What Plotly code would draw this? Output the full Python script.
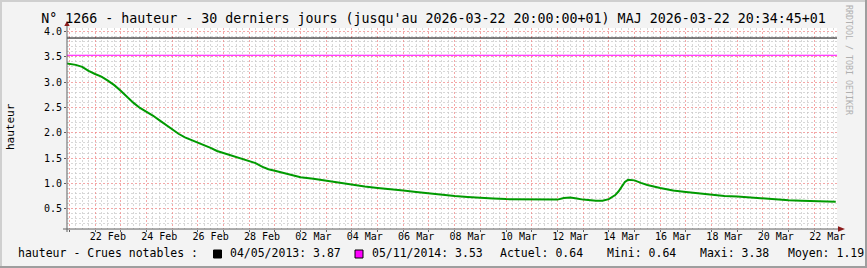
import plotly.graph_objects as go

# ---------------- data ----------------
times = [
    "2026-02-20 21:00", "2026-02-21 00:00", "2026-02-21 06:00", "2026-02-21 12:00", "2026-02-21 18:00",
    "2026-02-22 00:00", "2026-02-22 06:00", "2026-02-22 12:00", "2026-02-22 18:00",
    "2026-02-23 00:00", "2026-02-23 06:00", "2026-02-23 12:00", "2026-02-23 18:00",
    "2026-02-24 00:00", "2026-02-24 06:00", "2026-02-24 12:00", "2026-02-24 18:00",
    "2026-02-25 00:00", "2026-02-25 06:00", "2026-02-25 12:00", "2026-02-25 18:00",
    "2026-02-26 00:00", "2026-02-26 06:00", "2026-02-26 12:00", "2026-02-26 18:00",
    "2026-02-27 00:00", "2026-02-27 06:00", "2026-02-27 12:00", "2026-02-27 18:00",
    "2026-02-28 00:00", "2026-02-28 06:00", "2026-02-28 12:00", "2026-02-28 18:00",
    "2026-03-01 00:00", "2026-03-01 12:00", "2026-03-02 00:00", "2026-03-02 12:00",
    "2026-03-03 00:00", "2026-03-03 12:00", "2026-03-04 00:00", "2026-03-04 12:00",
    "2026-03-05 00:00", "2026-03-05 12:00", "2026-03-06 00:00", "2026-03-06 12:00",
    "2026-03-07 00:00", "2026-03-07 12:00", "2026-03-08 00:00", "2026-03-08 12:00",
    "2026-03-09 00:00", "2026-03-09 12:00", "2026-03-10 00:00", "2026-03-10 12:00",
    "2026-03-11 00:00", "2026-03-11 12:00", "2026-03-12 00:00", "2026-03-12 06:00",
    "2026-03-12 12:00", "2026-03-12 18:00", "2026-03-13 00:00", "2026-03-13 12:00",
    "2026-03-13 18:00", "2026-03-14 00:00", "2026-03-14 06:00", "2026-03-14 09:00",
    "2026-03-14 12:00", "2026-03-14 15:00", "2026-03-14 18:00", "2026-03-15 00:00",
    "2026-03-15 06:00", "2026-03-15 12:00", "2026-03-16 00:00", "2026-03-16 12:00",
    "2026-03-17 00:00", "2026-03-17 12:00", "2026-03-18 00:00", "2026-03-18 12:00",
    "2026-03-19 00:00", "2026-03-19 12:00", "2026-03-20 00:00", "2026-03-20 12:00",
    "2026-03-21 00:00", "2026-03-21 12:00", "2026-03-22 00:00", "2026-03-22 12:00",
    "2026-03-22 20:00",
]
hauteur = [
    3.37, 3.36, 3.34, 3.30, 3.22,
    3.16, 3.11, 3.03, 2.94,
    2.83, 2.70, 2.59, 2.49,
    2.42, 2.34, 2.25, 2.16,
    2.06, 1.98, 1.91, 1.86,
    1.80, 1.75, 1.70, 1.64,
    1.60, 1.56, 1.52, 1.48,
    1.44, 1.40, 1.33, 1.28,
    1.25, 1.18, 1.12, 1.09,
    1.05, 1.01, 0.97, 0.94,
    0.91, 0.89, 0.86, 0.83,
    0.80, 0.77, 0.75, 0.73,
    0.71, 0.70, 0.69, 0.69,
    0.68, 0.68, 0.68, 0.71,
    0.72, 0.70, 0.68, 0.66,
    0.66, 0.69, 0.77, 0.84,
    0.94, 1.03, 1.07, 1.06,
    1.01, 0.97, 0.91, 0.86,
    0.83, 0.80, 0.77, 0.75,
    0.74, 0.72, 0.70, 0.69,
    0.67, 0.66, 0.65, 0.64,
    0.64,
]

tick_dates = [
    "2026-02-22 12:00", "2026-02-24 12:00", "2026-02-26 12:00", "2026-02-28 12:00",
    "2026-03-02 12:00", "2026-03-04 12:00", "2026-03-06 12:00", "2026-03-08 12:00",
    "2026-03-10 12:00", "2026-03-12 12:00", "2026-03-14 12:00", "2026-03-16 12:00",
    "2026-03-18 12:00", "2026-03-20 12:00", "2026-03-22 12:00",
]
tick_labels = [
    "22 Feb", "24 Feb", "26 Feb", "28 Feb", "02 Mar", "04 Mar", "06 Mar", "08 Mar",
    "10 Mar", "12 Mar", "14 Mar", "16 Mar", "18 Mar", "20 Mar", "22 Mar",
]

notable_dates = ["04/05/2013", "05/11/2014"]
notable_values = [3.87, 3.53]
notable_colors = ["#000000", "#ff00ff"]

stat_names = ["Actuel", "Mini", "Maxi", "Moyen"]
stat_values = [0.64, 0.64, 3.38, 1.19]

title_text = ("N° 1266 - hauteur - 30 derniers jours (jusqu'au 2026-03-22 20:00:00+01) "
              "MAJ 2026-03-22 20:34:45+01")

# ---------------- layout helpers ----------------
W, H = 867, 268
L, R, T, B = 67, 30, 28, 39
PW, PH = W - L - R, H - T - B
MONO = "DejaVu Sans Mono"


def px2x(px):
    return (px - L) / PW


def px2y(py):
    return (H - B - py) / PH


x_range = ["2026-02-20 21:50", "2026-03-22 21:10"]
y_range = [0.1, 4.068]

MAJ = "rgba(240,130,130,0.7)"
MIN = "rgba(200,200,200,0.7)"
DASH = "2px,2px"

fig = go.Figure()
# invisible companion trace so the overlaid grid axis (x2) gets drawn
fig.add_trace(go.Scatter(
    x=times, y=hauteur, mode="lines", xaxis="x2", yaxis="y",
    line=dict(color="rgba(0,0,0,0)", width=0), opacity=0,
    hoverinfo="skip", showlegend=False,
))
fig.add_trace(go.Scatter(
    x=times, y=hauteur, mode="lines", xaxis="x", yaxis="y",
    line=dict(color="#009a00", width=2), hoverinfo="skip", showlegend=False,
))

shapes = []
for v, c in zip(notable_values, notable_colors):
    shapes.append(dict(type="line", xref="paper", yref="y", x0=0, x1=1, y0=v, y1=v,
                       line=dict(color=c, width=1), layer="above"))

# axis lines
AX = "#606060"
shapes.append(dict(type="line", xref="paper", yref="paper", x0=px2x(67), x1=px2x(67),
                   y0=px2y(232), y1=px2y(24), line=dict(color=AX, width=1)))
shapes.append(dict(type="line", xref="paper", yref="paper", x0=px2x(63), x1=px2x(840),
                   y0=px2y(229), y1=px2y(229), line=dict(color=AX, width=1)))
# arrows
ARW = "#8b1a1a"
shapes.append(dict(type="path", xref="paper", yref="paper", fillcolor=ARW, line=dict(width=0),
                   path=f"M {px2x(64.3)} {px2y(26)} L {px2x(69.7)} {px2y(26)} L {px2x(67)} {px2y(21)} Z"))
shapes.append(dict(type="path", xref="paper", yref="paper", fillcolor=ARW, line=dict(width=0),
                   path=f"M {px2x(838)} {px2y(226.3)} L {px2x(838)} {px2y(231.7)} L {px2x(845)} {px2y(229)} Z"))
# 3D frame
for (x0, x1, y0, y1, col) in [
    (0, W, 0, 2, "#cfcfcf"), (0, 2, 0, H, "#cfcfcf"),
    (0, W, H - 2, H, "#9e9e9e"), (W - 2, W, 0, H, "#9e9e9e"),
]:
    shapes.append(dict(type="rect", xref="paper", yref="paper", x0=px2x(x0), x1=px2x(x1),
                       y0=px2y(y1), y1=px2y(y0), fillcolor=col, line=dict(width=0)))
# legend swatches
for (sx, col) in [(213.5, notable_colors[0]), (355, notable_colors[1])]:
    shapes.append(dict(type="rect", xref="paper", yref="paper", x0=px2x(sx), x1=px2x(sx + 8),
                       y0=px2y(258), y1=px2y(250), fillcolor=col,
                       line=dict(color="#000000", width=1)))

annotations = []
LEG_Y = px2y(253)
leg_font = dict(family=MONO, size=11.5, color="#000000")
segments = [
    (16, "hauteur - Crues notables :"),
    (228, f"{notable_dates[0]}: {notable_values[0]:.2f}"),
    (370, f"{notable_dates[1]}: {notable_values[1]:.2f}"),
    (498, f"{stat_names[0]}: {stat_values[0]:.2f}"),
    (605, f"{stat_names[1]}: {stat_values[1]:.2f}"),
    (698, f"{stat_names[2]}: {stat_values[2]:.2f}"),
    (786, f"{stat_names[3]}: {stat_values[3]:.2f}"),
]
for sx, txt in segments:
    annotations.append(dict(xref="paper", yref="paper", x=px2x(sx), y=LEG_Y, text=txt,
                            showarrow=False, xanchor="left", yanchor="middle", font=leg_font))
annotations.append(dict(xref="paper", yref="paper", x=px2x(10), y=px2y(127), text="hauteur",
                        textangle=-90, showarrow=False, xanchor="center", yanchor="middle",
                        font=dict(family=MONO, size=11, color="#000000")))
annotations.append(dict(xref="paper", yref="paper", x=px2x(849), y=px2y(60),
                        text="RRDTOOL / TOBI OETIKER", textangle=90, showarrow=False,
                        xanchor="center", yanchor="middle",
                        font=dict(family=MONO, size=8.3, color="#b0b0b0")))

fig.update_layout(
    width=W, height=H,
    margin=dict(l=L, r=R, t=T, b=B, pad=0),
    paper_bgcolor="#f3f3f3", plot_bgcolor="#ffffff",
    title=dict(text=title_text, x=0.5, xref="container", xanchor="center",
               y=1 - 18 / H, yref="container", yanchor="middle",
               font=dict(family=MONO, size=13.3, color="#000000")),
    xaxis=dict(type="date", range=x_range, tickmode="array", tickvals=tick_dates,
               ticktext=tick_labels, ticks="", showgrid=False, showline=False,
               zeroline=False, tickfont=dict(family=MONO, size=10, color="#000000")),
    xaxis2=dict(type="date", overlaying="x", anchor="y", side="bottom",
                range=x_range, tick0="2026-02-21", dtick=86400000,
                showgrid=True, gridcolor=MAJ, griddash=DASH, gridwidth=1,
                showticklabels=False, ticks="outside", ticklen=2, tickcolor=AX,
                showline=False, zeroline=False,
                minor=dict(dtick=21600000, showgrid=True, gridcolor=MIN, griddash=DASH,
                           gridwidth=1, ticks="")),
    yaxis=dict(range=y_range, tick0=0, dtick=0.5, tickformat=".1f",
               showgrid=True, gridcolor=MAJ, griddash=DASH, gridwidth=1,
               ticks="outside", ticklen=2, tickcolor=AX, showline=False, zeroline=False,
               tickfont=dict(family=MONO, size=10, color="#000000"),
               minor=dict(dtick=0.1, showgrid=True, gridcolor=MIN, griddash=DASH,
                          gridwidth=1, ticks="")),
    shapes=shapes, annotations=annotations, showlegend=False,
)

fig.write_html("out.html")
